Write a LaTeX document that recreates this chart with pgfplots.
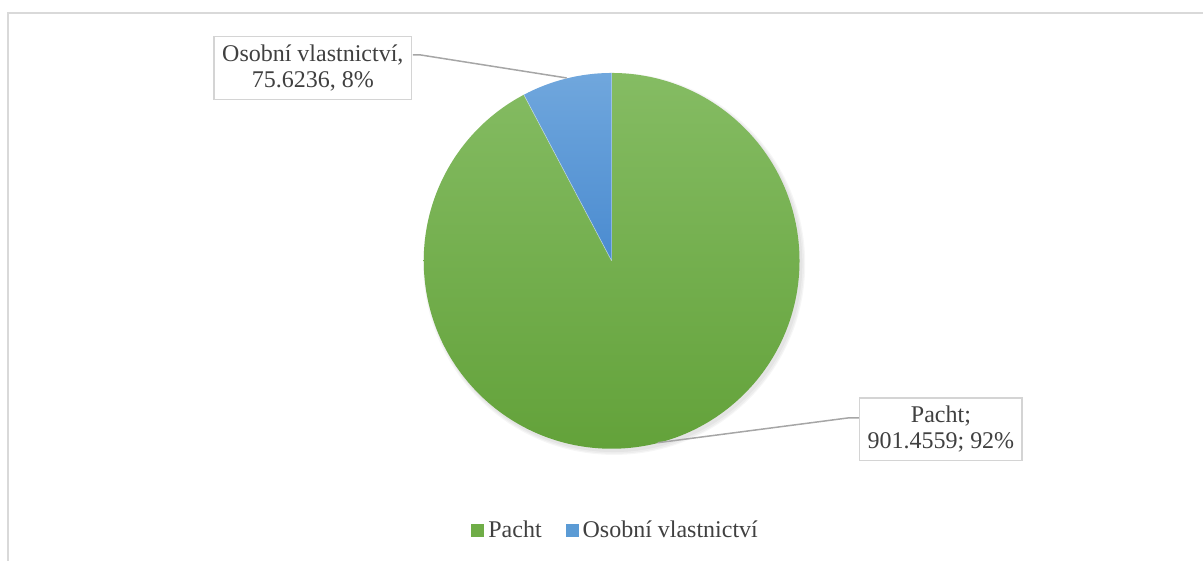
\documentclass[border=0pt]{standalone}
\usepackage{fontspec}
\setmainfont{Liberation Serif}
\usepackage{pgfplots}
\pgfplotsset{compat=1.18}
\definecolor{pachttop}{HTML}{85BC63}
\definecolor{pachtbot}{HTML}{63A23A}
\definecolor{pachtc}{HTML}{6FAD47}
\definecolor{osobtop}{HTML}{70A7DD}
\definecolor{osobbot}{HTML}{4A8BD0}
\definecolor{osobc}{HTML}{5B9BD5}
\definecolor{textc}{HTML}{404040}
\definecolor{boxc}{HTML}{D4D4D4}
\definecolor{leadc}{HTML}{A6A6A6}
\definecolor{bordc}{HTML}{D9D9D9}

% data
\def\valPacht{901.4559}
\def\valOsobni{75.6236}
\pgfmathsetmacro\fracOsobni{\valOsobni/(\valPacht+\valOsobni)}
\pgfmathsetmacro\angOsobni{360*\fracOsobni}
\pgfmathsetmacro\angPachtEnd{90+\angOsobni-360}

\begin{document}
\begin{tikzpicture}
\begin{axis}[
  width=602pt, height=280.5pt, scale only axis,
  xmin=0, xmax=1204, ymin=0, ymax=561, y dir=reverse, % pixel grid of the reference
  hide axis, clip=false,
  legend style={at={(axis cs:617,531)}, anchor=center, legend columns=2, draw=none, fill=none,
    font=\fontsize{12}{12}\selectfont, text=textc,
    /tikz/every even column/.append style={column sep=10pt}},
  legend image code/.code={\fill[#1, draw=none] (0pt,-3pt) rectangle (6.5pt,3.5pt);},
]
\path (axis cs:0,0) (axis cs:1204,561);
\draw[bordc, line width=0.75pt] (axis cs:8,561) -- (axis cs:8,13) -- (axis cs:1204,13);

% soft shadow, mostly to the lower right
\fill[black, opacity=0.035] (axis cs:614.5,264) circle[radius=95.6pt];
\fill[black, opacity=0.035] (axis cs:614.5,264) circle[radius=95.0pt];
\fill[black, opacity=0.04] (axis cs:614,263.5) circle[radius=94.4pt];
% slices
\shade[top color=pachttop, bottom color=pachtbot] (axis cs:612,261) -- ++(90:94pt)
  arc[start angle=90, end angle=\angPachtEnd, radius=94pt] -- cycle;
\shade[top color=osobtop, bottom color=osobbot] (axis cs:612,261) -- ++(90:94pt)
  arc[start angle=90, end angle=90+\angOsobni, radius=94pt] -- cycle;
\draw[white, opacity=0.5, line width=0.3pt] (axis cs:612,261) -- ++(90:94pt)
  (axis cs:612,261) -- ++(90+\angOsobni:94pt);

% leader lines and labels
\draw[leadc, line width=0.75pt] (axis cs:413,55) -- (axis cs:421,55) -- (axis cs:567,78);
\draw[leadc, line width=0.75pt] (axis cs:860,418) -- (axis cs:850,418) -- (axis cs:658,443);
\node[draw=boxc, line width=0.75pt, fill=white, text=textc, align=center,
  inner xsep=4pt, inner ysep=4pt, font=\fontsize{12}{13.2}\selectfont]
  at (axis cs:313,68) {Osobní vlastnictví,\\75.6236, 8\%};
\node[draw=boxc, line width=0.75pt, fill=white, text=textc, align=center,
  inner xsep=4pt, inner ysep=4pt, font=\fontsize{12}{13.2}\selectfont]
  at (axis cs:941.5,429.5) {Pacht;\\901.4559; 92\%};

\addlegendimage{fill=pachtc}
\addlegendentry{Pacht}
\addlegendimage{fill=osobc}
\addlegendentry{Osobní vlastnictví}
\end{axis}
\end{tikzpicture}
\end{document}
